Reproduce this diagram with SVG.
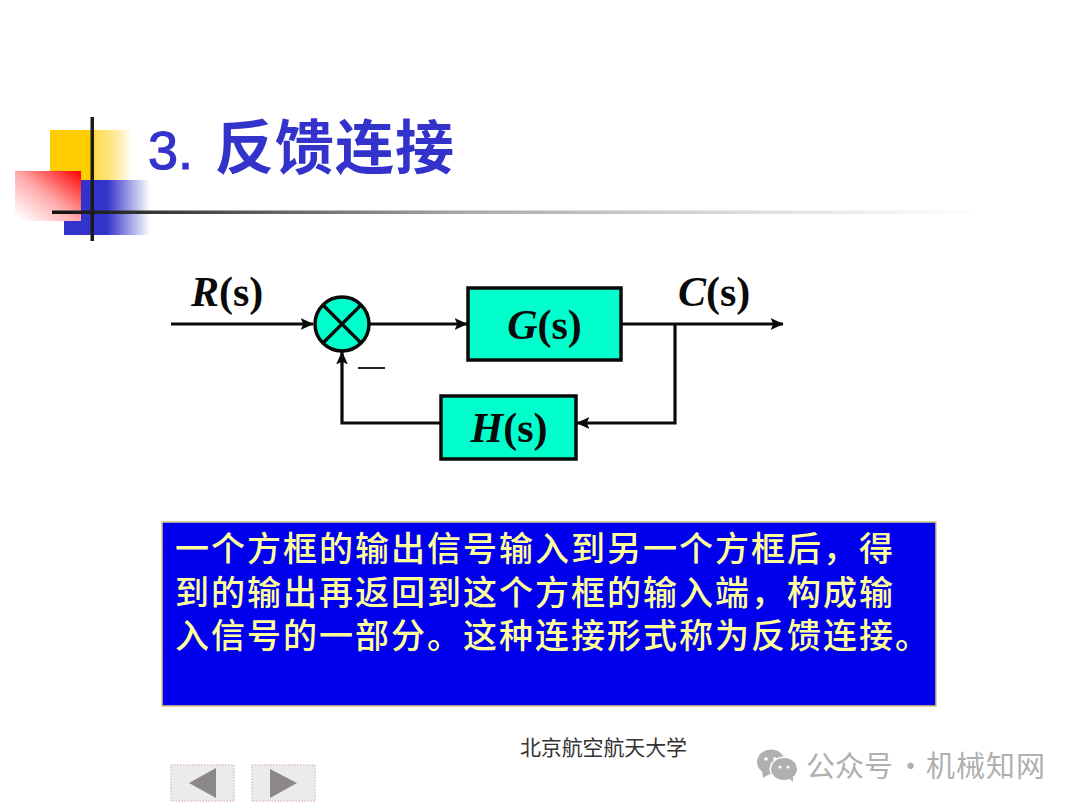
<svg xmlns="http://www.w3.org/2000/svg" width="1080" height="810" viewBox="0 0 1080 810">
<style>
.cn{font-family:"Noto Sans CJK SC","Noto Sans",sans-serif}
.ltx{font-family:"Liberation Serif","Times New Roman",serif;font-weight:bold;font-size:42px;fill:#0a0a0a}
.ltx .i{font-style:italic}
.box{fill:#00ffcc;stroke:#0a0a0a;stroke-width:3.5}
.wire{fill:none;stroke:#0a0a0a;stroke-width:3.2}
.nav{fill:#ebebea;stroke:#e6ccd2;stroke-width:2;stroke-dasharray:1.5 1.5}
.tri{fill:#8c8889}
.body{font-size:34px;letter-spacing:2px;fill:#ffff99;font-weight:500}
.wx{fill:#b0b0b0}
</style>
<defs>
<linearGradient id="gy" x1="0" x2="1" y1="0" y2="0"><stop offset="0" stop-color="#ffcc00"/><stop offset=".52" stop-color="#ffcc00"/><stop offset=".56" stop-color="#ffdb55"/><stop offset="1" stop-color="#ffcc00" stop-opacity="0"/></linearGradient>
<linearGradient id="gb" x1="0" x2="1" y1="0" y2="0"><stop offset="0" stop-color="#3333cc"/><stop offset=".5" stop-color="#3333cc"/><stop offset="1" stop-color="#3333cc" stop-opacity="0"/></linearGradient>
<linearGradient id="gr" x1="1" x2="0" y1="0" y2="1"><stop offset="0" stop-color="#ff0000"/><stop offset=".5" stop-color="#ffa8a8"/><stop offset=".95" stop-color="#ffffff"/></linearGradient>
<linearGradient id="gl" x1="0" x2="1" y1="0" y2="0"><stop offset="0" stop-color="#111111"/><stop offset=".1" stop-color="#333333"/><stop offset=".45" stop-color="#aaaaaa"/><stop offset=".75" stop-color="#dddddd"/><stop offset="1" stop-color="#ffffff"/></linearGradient>
<marker id="arr" viewBox="0 0 10 10" refX="9.5" refY="5" markerWidth="13" markerHeight="13" markerUnits="userSpaceOnUse" orient="auto"><path d="M0 .5L10 5L0 9.5L2 5Z" fill="#0a0a0a"/></marker>
</defs>
<rect width="1080" height="810" fill="#ffffff"/>
<g id="decor">
<rect x="50" y="130" width="82" height="50" fill="url(#gy)"/>
<rect x="64" y="180" width="86" height="55" fill="url(#gb)"/>
<rect x="15" y="171" width="66" height="50" fill="url(#gr)"/>
<rect x="52" y="210.500" width="930" height="3.500" fill="url(#gl)"/>
<rect x="90.500" y="117" width="3.500" height="124" fill="#1a1a1a"/>
</g>
<text id="title" x="148" y="169" font-size="58" fill="#3333cc"><tspan font-family="Liberation Sans,sans-serif" font-size="54" stroke="#3333cc" stroke-width="1.200">3.</tspan><tspan class="cn" x="215" font-size="59" font-weight="700" letter-spacing="1">反馈连接</tspan></text>
<g id="connectors">
<path class="wire" d="M171 324H313" marker-end="url(#arr)"/>
<path class="wire" d="M370 324H467" marker-end="url(#arr)"/>
<path class="wire" d="M621 324H783" marker-end="url(#arr)"/>
<path class="wire" d="M675 324V423H577" marker-end="url(#arr)"/>
<path class="wire" d="M441 423H342V352" marker-end="url(#arr)"/>
</g>
<g id="sum">
<circle class="box" cx="342" cy="324" r="27"/>
<path class="wire" d="M323 305L361 343M361 305L323 343"/>
</g>
<g id="G"><rect class="box" x="468" y="288" width="153" height="72"/><text class="ltx" x="544.500" y="339" text-anchor="middle"><tspan class="i">G</tspan>(s)</text></g>
<g id="H"><rect class="box" x="441" y="396" width="135" height="63"/><text class="ltx" x="509" y="442" text-anchor="middle"><tspan class="i">H</tspan>(s)</text></g>
<g id="labels">
<text class="ltx" x="191" y="306"><tspan class="i">R</tspan>(s)</text>
<text class="ltx" x="678" y="306"><tspan class="i">C</tspan>(s)</text>
<path d="M358 368H385" stroke="#222222" stroke-width="2" fill="none"/>
</g>
<g id="note">
<rect x="162" y="522" width="774" height="184" fill="#0000ee" stroke="#d9c77a" stroke-width="1.500"/>
<text class="cn body" x="175" y="561">一个方框的输出信号输入到另一个方框后，得</text>
<text class="cn body" x="175" y="605">到的输出再返回到这个方框的输入端，构成输</text>
<text class="cn body" x="175" y="648">入信号的一部分。这种连接形式称为反馈连接。</text>
</g>
<text id="footer" class="cn" x="520" y="755" font-size="21" fill="#333333" textLength="167">北京航空航天大学</text>
<g id="prev"><rect class="nav" x="171" y="765" width="63" height="36"/><path class="tri" d="M189 783L216 768V798Z"/></g>
<g id="next"><rect class="nav" x="252" y="765" width="63" height="36"/><path class="tri" d="M270 769L297 783L270 798Z"/></g>
<g id="watermark">
<ellipse class="wx" cx="771" cy="762" rx="14" ry="12.500"/><path class="wx" d="M762 770L763 778L771 773Z"/>
<ellipse cx="784" cy="769" rx="14.500" ry="12.500" fill="#ffffff"/>
<ellipse class="wx" cx="784" cy="769" rx="13" ry="11"/><path class="wx" d="M788 777L793 782L793 775Z"/>
<circle cx="766" cy="759" r="1.800" fill="#ffffff"/><circle cx="775" cy="759" r="1.800" fill="#ffffff"/>
<circle cx="780" cy="767" r="1.500" fill="#ffffff"/><circle cx="788" cy="767" r="1.500" fill="#ffffff"/>
<text class="cn" y="777" font-size="29" fill="#b0b0b0"><tspan x="806">公众号</tspan><tspan x="896">·</tspan><tspan x="926" letter-spacing="1">机械知网</tspan></text>
</g>
</svg>
